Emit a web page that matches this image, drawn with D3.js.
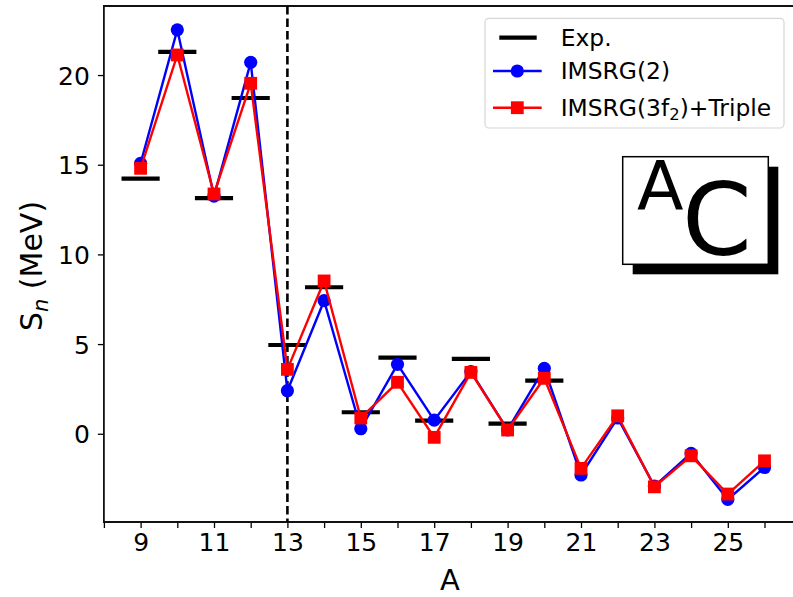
<!DOCTYPE html>
<html>
<head>
<meta charset="utf-8">
<script src="https://cdn.jsdelivr.net/npm/d3@7"></script>
<style>
  html, body { margin: 0; padding: 0; background: #fff; }
  svg { display: block; font-family: "DejaVu Sans", sans-serif; }
</style>
</head>
<body>
<svg id="chart" width="793" height="597"></svg>
<script>
// Neutron separation energies of carbon isotopes
const massNumbers = [9, 10, 11, 12, 13, 14, 15, 16, 17, 18, 19, 20, 21, 22, 23, 24, 25, 26];
const imsrg2 = [15.08, 22.52, 13.25, 20.71, 2.40, 7.42, 0.28, 3.87, 0.76, 3.47, 0.22, 3.65, -2.30, 0.88, -2.92, -1.09, -3.66, -1.88];
const imsrg3 = [14.80, 21.12, 13.37, 19.54, 3.59, 8.52, 0.88, 2.87, -0.20, 3.42, 0.21, 3.09, -1.93, 1.00, -2.96, -1.23, -3.36, -1.51];
const expMass = [9, 10, 11, 12, 13, 14, 15, 16, 17, 18, 19, 20];
const expValues = [14.22, 21.29, 13.14, 18.72, 4.95, 8.17, 1.20, 4.24, 0.73, 4.17, 0.56, 2.96];
const yTicks = [0, 5, 10, 15, 20];
const xTicks = d3.range(8, 27);
const xLabelled = [9, 11, 13, 15, 17, 19, 21, 23, 25];
const seriesNames = ["Exp.", "IMSRG(2)", "IMSRG(3f\u2082)+Triple"];

(function draw() {
  const svg = d3.select("#chart");
  const mLeft = 103.9, mRight = 795.7, mTop = 6, mBottom = 522;
  const x = d3.scaleLinear().domain([8, 26.85]).range([mLeft, mRight]);
  const y = d3.scaleLinear().domain([-4.92, 23.85]).range([mBottom, mTop]);

  // axes
  const xAxis = d3.axisBottom(x).tickValues(xTicks).tickSize(6).tickSizeOuter(0)
    .tickFormat(d => xLabelled.includes(d) ? d : "");
  const gx = svg.append("g").attr("transform", `translate(0,${mBottom})`).call(xAxis);
  gx.select(".domain").remove();
  gx.selectAll(".tick line").attr("stroke", "#000").attr("stroke-width", 1.3);
  gx.selectAll(".tick text").attr("font-size", 25).attr("font-family", "DejaVu Sans")
    .attr("fill", "#000").attr("y", 11).attr("dy", "0.71em");

  const yAxis = d3.axisLeft(y).tickValues(yTicks).tickSize(6).tickSizeOuter(0);
  const gy = svg.append("g").attr("transform", `translate(${mLeft},0)`).call(yAxis);
  gy.select(".domain").remove();
  gy.selectAll(".tick line").attr("stroke", "#000").attr("stroke-width", 1.3);
  gy.selectAll(".tick text").attr("font-size", 25).attr("font-family", "DejaVu Sans")
    .attr("fill", "#000").attr("x", -14).attr("dy", "0.36em");

  // frame
  svg.append("path")
    .attr("d", `M${mRight},${mTop}H${mLeft}V${mBottom}H${mRight}`)
    .attr("fill", "none").attr("stroke", "#111").attr("stroke-width", 1.8);

  // axis titles
  svg.append("text").attr("x", (mLeft + mRight) / 2).attr("y", 590)
    .attr("text-anchor", "middle").attr("font-size", 29).text("A");
  const yl = svg.append("text").attr("transform", "translate(42,266) rotate(-90)")
    .attr("text-anchor", "middle").attr("font-size", 30);
  yl.append("tspan").text("S");
  yl.append("tspan").attr("font-size", 21).attr("font-style", "italic").attr("dy", 6).text("n");
  yl.append("tspan").attr("dy", -6).text(" (MeV)");

  // dashed line marking A = 13
  svg.append("line").attr("x1", x(13)).attr("x2", x(13)).attr("y1", mTop).attr("y2", mBottom)
    .attr("stroke", "#000").attr("stroke-width", 2.6).attr("stroke-dasharray", "8.5,4");

  // experimental values
  svg.append("g").selectAll("line").data(expMass).join("line")
    .attr("x1", (d) => x(d - 0.52)).attr("x2", (d) => x(d + 0.52))
    .attr("y1", (d, i) => y(expValues[i])).attr("y2", (d, i) => y(expValues[i]))
    .attr("stroke", "#000").attr("stroke-width", 4.2);

  // IMSRG(2)
  const line = d3.line().x(d => x(d[0])).y(d => y(d[1]));
  const blueData = massNumbers.map((a, i) => [a, imsrg2[i]]);
  const redData = massNumbers.map((a, i) => [a, imsrg3[i]]);
  svg.append("path").datum(blueData).attr("d", line)
    .attr("fill", "none").attr("stroke", "#0000ff").attr("stroke-width", 2.4);
  svg.append("g").selectAll("circle").data(blueData).join("circle")
    .attr("cx", d => x(d[0])).attr("cy", d => y(d[1])).attr("r", 6.6).attr("fill", "#0000ff");

  // IMSRG(3f2)+Triple
  svg.append("path").datum(redData).attr("d", line)
    .attr("fill", "none").attr("stroke", "#ff0000").attr("stroke-width", 2.4);
  const sq = 12.8;
  svg.append("g").selectAll("rect").data(redData).join("rect")
    .attr("x", d => x(d[0]) - sq / 2).attr("y", d => y(d[1]) - sq / 2)
    .attr("width", sq).attr("height", sq).attr("fill", "#ff0000");

  // legend
  const lg = svg.append("g");
  lg.append("rect").attr("x", 485).attr("y", 18.3).attr("width", 299).attr("height", 109.7)
    .attr("rx", 4).attr("fill", "#fff").attr("fill-opacity", 0.8)
    .attr("stroke", "#d6d6d6").attr("stroke-width", 1.2);
  const rowsY = [37.7, 71, 107.7];
  lg.append("line").attr("x1", 499.3).attr("x2", 536.7).attr("y1", rowsY[0]).attr("y2", rowsY[0])
    .attr("stroke", "#000").attr("stroke-width", 4.2);
  lg.append("line").attr("x1", 493).attr("x2", 541.7).attr("y1", rowsY[1]).attr("y2", rowsY[1])
    .attr("stroke", "#0000ff").attr("stroke-width", 2.4);
  lg.append("circle").attr("cx", 517.3).attr("cy", rowsY[1]).attr("r", 6.6).attr("fill", "#0000ff");
  lg.append("line").attr("x1", 493).attr("x2", 541.7).attr("y1", rowsY[2]).attr("y2", rowsY[2])
    .attr("stroke", "#ff0000").attr("stroke-width", 2.4);
  lg.append("rect").attr("x", 517.3 - sq / 2).attr("y", rowsY[2] - sq / 2)
    .attr("width", sq).attr("height", sq).attr("fill", "#ff0000");
  lg.append("text").attr("x", 560.7).attr("y", rowsY[0] + 8.3).attr("font-size", 23.4).text(seriesNames[0]);
  lg.append("text").attr("x", 560.7).attr("y", rowsY[1] + 8.3).attr("font-size", 23.4).text(seriesNames[1]);
  const t3 = lg.append("text").attr("x", 560.7).attr("y", rowsY[2] + 8.3).attr("font-size", 23.4);
  t3.append("tspan").text("IMSRG(3f");
  t3.append("tspan").attr("font-size", 16.4).attr("dy", 4).text("2");
  t3.append("tspan").attr("dy", -4).text(")+Triple");

  // element symbol box with drop shadow
  const bx = 622.7, by = 156.7, bw = 145.6, bh = 107.6;
  svg.append("rect").attr("x", bx + 10).attr("y", by + 10).attr("width", bw).attr("height", bh).attr("fill", "#000");
  svg.append("rect").attr("x", bx).attr("y", by).attr("width", bw).attr("height", bh)
    .attr("fill", "#fff").attr("stroke", "#000").attr("stroke-width", 1.5);
  svg.append("text").attr("x", 637).attr("y", 210).attr("font-size", 68).text("A");
  svg.append("text").attr("x", 682).attr("y", 255).attr("font-size", 100).text("C");
})();
</script>
</body>
</html>
